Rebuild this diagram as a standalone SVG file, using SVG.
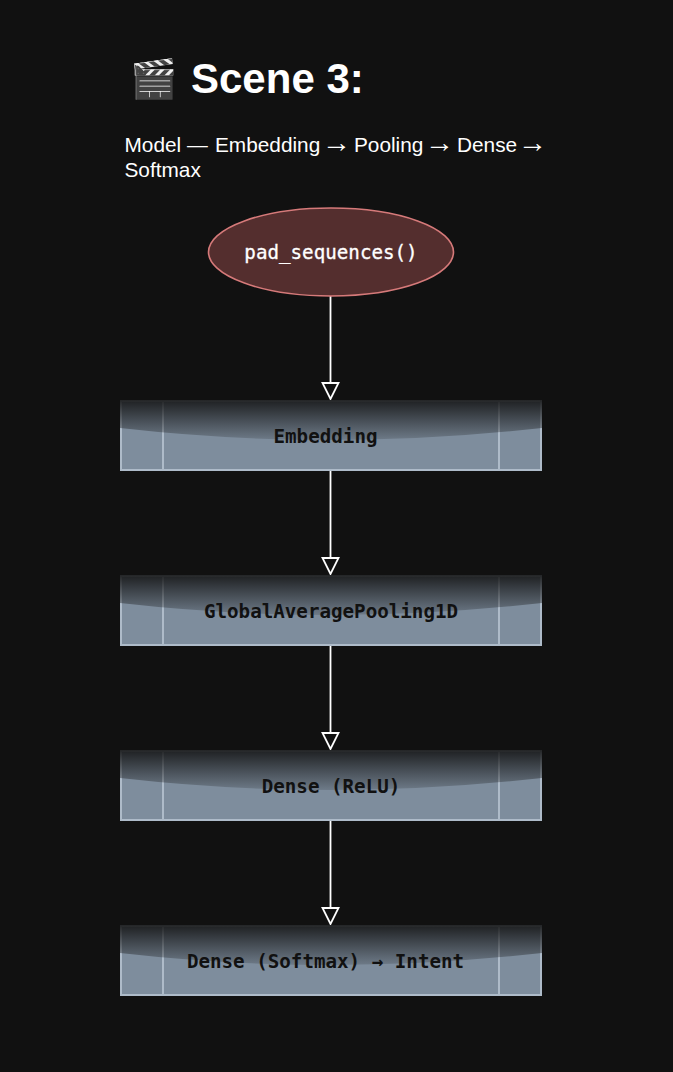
<svg xmlns="http://www.w3.org/2000/svg" width="673" height="1072" viewBox="0 0 673 1072">
<style>
.mono{font-family:"DejaVu Sans Mono","Liberation Mono",monospace;font-size:19.2px;font-weight:700;text-anchor:middle}
.lab{fill:#111}
.body{fill:#7e8d9d;stroke:#aebbc9;stroke-width:2}
.div{stroke:#aebbc9;stroke-width:2;fill:none}
.shade{fill:url(#sh)}
.conn{stroke:#fff;stroke-width:1.800;fill:none}
.head{stroke:#fff;stroke-width:1.800;fill:#111}
.sub{font-family:"Liberation Sans",Arial,sans-serif;font-size:20.800px;fill:#fff}
.arr{font-size:29px}
</style>
<defs>
<linearGradient id="sh" x1="0" y1="0" x2="0" y2="1"><stop offset="0" stop-color="#111" stop-opacity=".88"/><stop offset="1" stop-color="#111" stop-opacity=".15"/></linearGradient>
</defs>
<rect width="673" height="1072" fill="#111"/>
<text x="130" y="92" font-family="'Liberation Sans',Arial,sans-serif" font-size="38" font-weight="700" fill="#fff">🎬</text>
<text x="191" y="93" font-family="'Liberation Sans',Arial,sans-serif" font-size="42" font-weight="700" fill="#fff">Scene 3:</text>
<text class="sub"><tspan x="124.500" y="152">Model</tspan><tspan x="187" y="152">—</tspan><tspan x="215" y="152">Embedding</tspan><tspan class="arr" x="322" y="152">→</tspan><tspan x="354" y="152">Pooling</tspan><tspan class="arr" x="425" y="152">→</tspan><tspan x="457" y="152">Dense</tspan><tspan class="arr" x="518" y="152">→</tspan></text>
<text class="sub" x="124.500" y="177">Softmax</text>
<g id="connectors">
<path class="conn" d="M330.500 296V383M330.500 471V558M330.500 646V733M330.500 821V908"/>
<path class="head" d="M322.500 383H338.500L330.500 399Z"/>
<path class="head" d="M322.500 558H338.500L330.500 574Z"/>
<path class="head" d="M322.500 733H338.500L330.500 749Z"/>
<path class="head" d="M322.500 908H338.500L330.500 924Z"/>
</g>
<g id="pad_sequences">
<ellipse cx="331" cy="252" rx="122.500" ry="44" fill="#542e2e" stroke="#d67a7a" stroke-width="1.600"/>
<text class="mono" x="331" y="259" fill="#fff" stroke="#fff" stroke-width=".3" style="font-weight:400">pad_sequences()</text>
</g>
<g id="embedding">
<rect class="body" x="121" y="401" width="420" height="69"/>
<path class="div" d="M163 401V470M499 401V470"/>
<path class="shade" d="M120 400H542V428Q331 452 120 428Z"/>
<text class="mono lab" x="325.500" y="443">Embedding</text>
</g>
<g id="pooling">
<rect class="body" x="121" y="576" width="420" height="69"/>
<path class="div" d="M163 576V645M499 576V645"/>
<path class="shade" d="M120 575H542V603Q331 627 120 603Z"/>
<text class="mono lab" x="331" y="618">GlobalAveragePooling1D</text>
</g>
<g id="dense_relu">
<rect class="body" x="121" y="751" width="420" height="69"/>
<path class="div" d="M163 751V820M499 751V820"/>
<path class="shade" d="M120 750H542V778Q331 802 120 778Z"/>
<text class="mono lab" x="331" y="793">Dense (ReLU)</text>
</g>
<g id="dense_softmax">
<rect class="body" x="121" y="926" width="420" height="69"/>
<path class="div" d="M163 926V995M499 926V995"/>
<path class="shade" d="M120 925H542V953Q331 977 120 953Z"/>
<text class="mono lab" x="325.500" y="968">Dense (Softmax) → Intent</text>
</g>
</svg>
